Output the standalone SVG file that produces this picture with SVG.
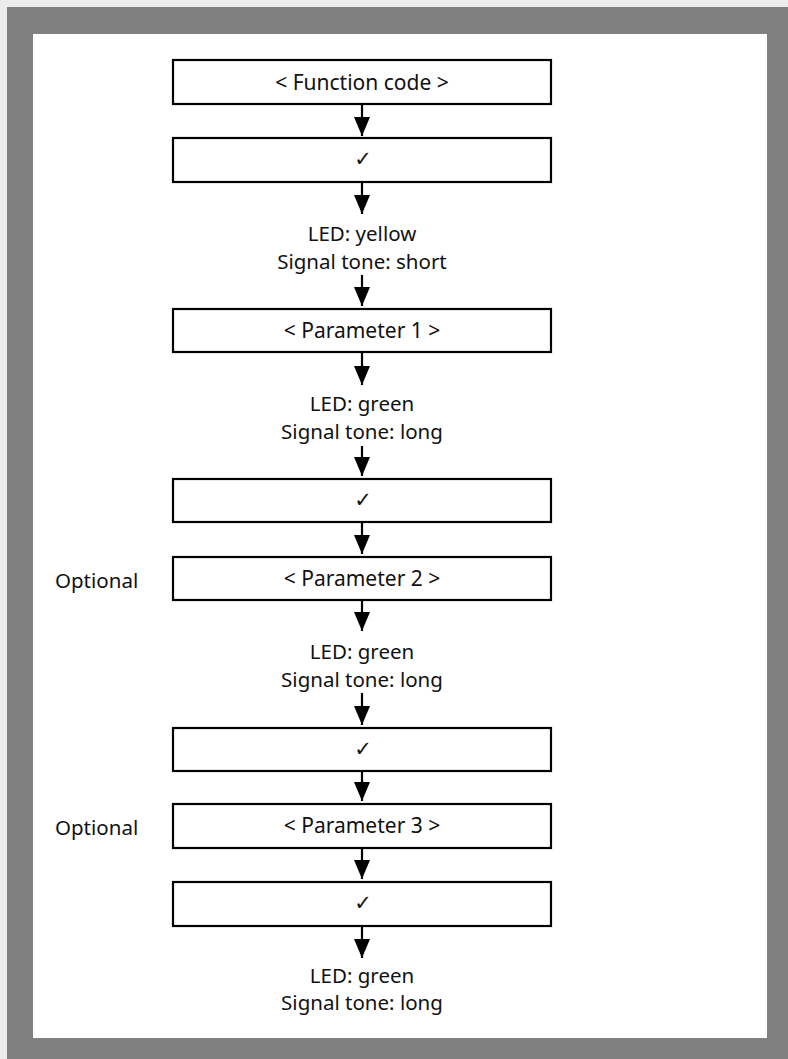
<svg xmlns="http://www.w3.org/2000/svg" width="788" height="1059" viewBox="0 0 788 1059">
  <style>
    .box { fill: #ffffff; stroke: #000000; stroke-width: 2.2; }
    .lbl { font-family: "Noto Sans", "Open Sans", "Liberation Sans", sans-serif; font-size: 20.5px; fill: #111111; text-anchor: middle; }
    .btxt { font-family: "Noto Sans", "Open Sans", "Liberation Sans", sans-serif; font-size: 21px; fill: #111111; text-anchor: middle; }
    .side { font-family: "Noto Sans", "Open Sans", "Liberation Sans", sans-serif; font-size: 20.5px; fill: #111111; text-anchor: start; }
    .tick { font-family: "DejaVu Sans", sans-serif; font-size: 21px; fill: #111111; text-anchor: middle; }
    .shaft { stroke: #000000; stroke-width: 2.2; fill: none; }
  </style>
  <defs>
    <marker id="head" markerUnits="userSpaceOnUse" markerWidth="19" markerHeight="16" refX="19" refY="8" orient="auto" viewBox="0 0 19 16">
      <path d="M0,0 L19,8 L0,16 Z" fill="#000000"/>
    </marker>
  </defs>

  <!-- frame -->
  <rect x="0" y="0" width="788" height="1059" fill="#ececec"/>
  <rect x="7" y="7" width="781" height="1052" fill="#808080"/>
  <rect x="33" y="34" width="734" height="1004" fill="#ffffff"/>

  <!-- connectors (shaft ends at arrowhead tip) -->
  <g id="connectors">
    <line class="shaft" x1="362" y1="105" x2="362" y2="136" marker-end="url(#head)"/>
    <line class="shaft" x1="362" y1="183" x2="362" y2="214" marker-end="url(#head)"/>
    <line class="shaft" x1="362" y1="275" x2="362" y2="306" marker-end="url(#head)"/>
    <line class="shaft" x1="362" y1="353" x2="362" y2="385" marker-end="url(#head)"/>
    <line class="shaft" x1="362" y1="446" x2="362" y2="476" marker-end="url(#head)"/>
    <line class="shaft" x1="362" y1="523" x2="362" y2="554" marker-end="url(#head)"/>
    <line class="shaft" x1="362" y1="601" x2="362" y2="631" marker-end="url(#head)"/>
    <line class="shaft" x1="362" y1="693" x2="362" y2="725" marker-end="url(#head)"/>
    <line class="shaft" x1="362" y1="772" x2="362" y2="801" marker-end="url(#head)"/>
    <line class="shaft" x1="362" y1="849" x2="362" y2="879" marker-end="url(#head)"/>
    <line class="shaft" x1="362" y1="927" x2="362" y2="958" marker-end="url(#head)"/>
  </g>

  <!-- boxes -->
  <g id="function-code">
    <rect class="box" x="173" y="60" width="378" height="44"/>
    <text class="btxt" x="362" y="90">&lt; Function code &gt;</text>
  </g>
  <g id="confirm-1">
    <rect class="box" x="173" y="138" width="378" height="44"/>
    <text class="tick" x="363" y="166">✓</text>
  </g>
  <g id="status-1">
    <text class="lbl" x="362" y="241">LED: yellow</text>
    <text class="lbl" x="362" y="269">Signal tone: short</text>
  </g>
  <g id="parameter-1">
    <rect class="box" x="173" y="309" width="378" height="43"/>
    <text class="btxt" x="362" y="338">&lt; Parameter 1 &gt;</text>
  </g>
  <g id="status-2">
    <text class="lbl" x="362" y="411">LED: green</text>
    <text class="lbl" x="362" y="439">Signal tone: long</text>
  </g>
  <g id="confirm-2">
    <rect class="box" x="173" y="479" width="378" height="43"/>
    <text class="tick" x="363" y="507">✓</text>
  </g>
  <g id="parameter-2">
    <rect class="box" x="173" y="557" width="378" height="43"/>
    <text class="btxt" x="362" y="586">&lt; Parameter 2 &gt;</text>
    <text class="side" x="55" y="588">Optional</text>
  </g>
  <g id="status-3">
    <text class="lbl" x="362" y="659">LED: green</text>
    <text class="lbl" x="362" y="687">Signal tone: long</text>
  </g>
  <g id="confirm-3">
    <rect class="box" x="173" y="728" width="378" height="43"/>
    <text class="tick" x="363" y="756">✓</text>
  </g>
  <g id="parameter-3">
    <rect class="box" x="173" y="804" width="378" height="44"/>
    <text class="btxt" x="362" y="833">&lt; Parameter 3 &gt;</text>
    <text class="side" x="55" y="835">Optional</text>
  </g>
  <g id="confirm-4">
    <rect class="box" x="173" y="882" width="378" height="44"/>
    <text class="tick" x="363" y="910">✓</text>
  </g>
  <g id="status-4">
    <text class="lbl" x="362" y="983">LED: green</text>
    <text class="lbl" x="362" y="1010">Signal tone: long</text>
  </g>
</svg>
